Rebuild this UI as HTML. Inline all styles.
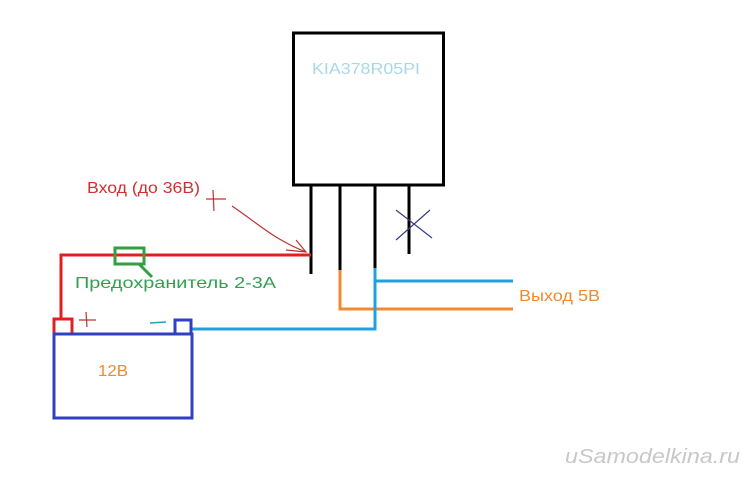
<!DOCTYPE html><html><head><meta charset="utf-8"><style>body{margin:0;background:#fff}</style></head><body>
<svg width="750" height="479" xmlns="http://www.w3.org/2000/svg" style="display:block">
<rect x="0" y="0" width="750" height="479" fill="#fff"/>
<rect x="293.5" y="33" width="150" height="152" fill="none" stroke="#000" stroke-width="3"/>
<text x="312" y="74" font-family="Liberation Sans, sans-serif" font-size="16" fill="#a8d8e8" textLength="108" lengthAdjust="spacingAndGlyphs">KIA378R05PI</text>
<g stroke="#000" stroke-width="3">
<line x1="311" y1="185" x2="311" y2="274"/><line x1="340" y1="185" x2="340" y2="270"/>
<line x1="375" y1="185" x2="375" y2="268"/><line x1="409" y1="185" x2="409" y2="254"/></g>
<path d="M396 210 L432 238 M430 210 L396 240" stroke="#3a3a8a" stroke-width="1.2" fill="none"/>
<path d="M340 270 V309 H513" stroke="#f08a30" stroke-width="3" fill="none"/>
<path d="M375 268 V329 H190 M375 281 H513" stroke="#20a0e0" stroke-width="3" fill="none"/>
<path d="M311 255 H61 V319" stroke="#e02020" stroke-width="3" fill="none"/>
<rect x="54" y="319" width="18" height="15" fill="none" stroke="#e02020" stroke-width="3"/>
<rect x="54" y="334" width="138" height="84" fill="none" stroke="#3040c0" stroke-width="3"/>
<rect x="175" y="320" width="16" height="14" fill="none" stroke="#3040c0" stroke-width="3"/>
<rect x="115" y="248" width="29" height="16" fill="none" stroke="#30a040" stroke-width="3"/>
<line x1="139" y1="264" x2="152" y2="277" stroke="#30a040" stroke-width="3"/>
<path d="M232 206 C260 225 275 240 306 252 M296 240 L306 252 L286 250" stroke="#c03030" stroke-width="1.2" fill="none"/>
<path d="M206 199 H226 M213 190 L214 211" stroke="#c03030" stroke-width="1.2" fill="none"/>
<path d="M79 320 H96 M86 312 L87 327" stroke="#c03030" stroke-width="1.2" fill="none"/>
<line x1="150" y1="323" x2="166" y2="322" stroke="#20a0c0" stroke-width="1.5"/>
<text x="87" y="193" font-family="Liberation Sans, sans-serif" font-size="16" fill="#d03030" textLength="113" lengthAdjust="spacingAndGlyphs">Вход (до 36В)</text>
<text x="75" y="288" font-family="Liberation Sans, sans-serif" font-size="16" fill="#30a050" textLength="201" lengthAdjust="spacingAndGlyphs">Предохранитель 2-3А</text>
<text x="98" y="376" font-family="Liberation Sans, sans-serif" font-size="16" fill="#f08a30" textLength="30" lengthAdjust="spacingAndGlyphs">12В</text>
<text x="519" y="301" font-family="Liberation Sans, sans-serif" font-size="16" fill="#f08a30" textLength="81" lengthAdjust="spacingAndGlyphs">Выход 5В</text>
<text x="565" y="463" font-family="Liberation Sans, sans-serif" font-size="20" fill="#c8c8c8" font-style="italic" textLength="175" lengthAdjust="spacingAndGlyphs">uSamodelkina.ru</text>
</svg></body></html>
